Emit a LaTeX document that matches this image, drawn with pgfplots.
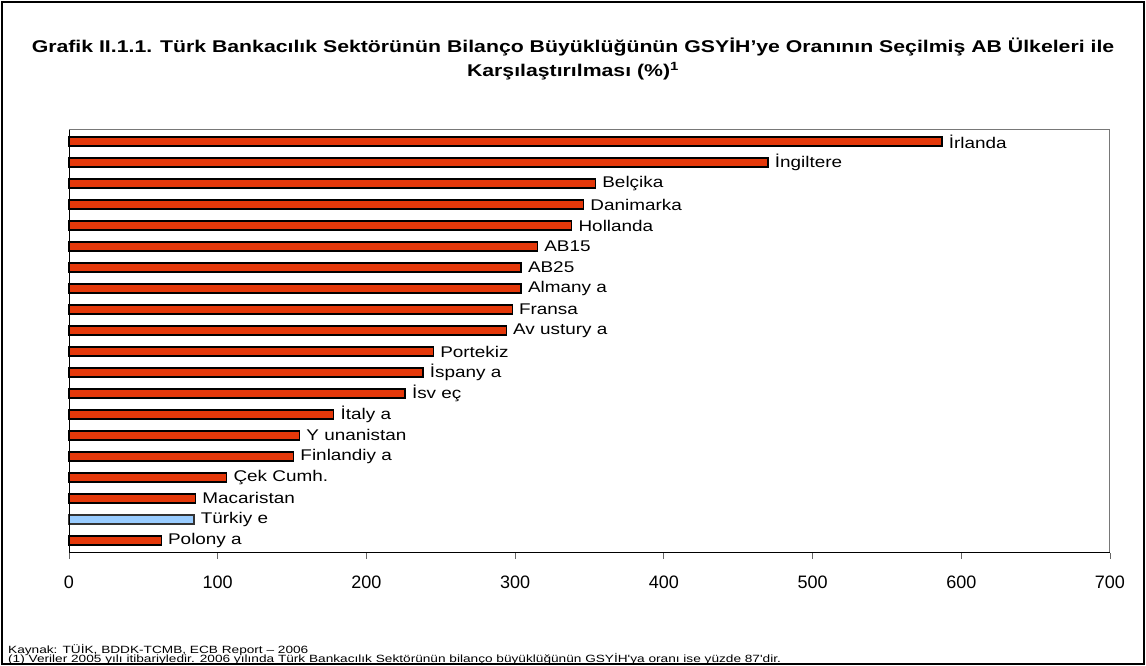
\documentclass[border=0pt]{standalone}
\usepackage{fontspec}
\setmainfont{Liberation Sans}
\newfontfamily\labelfont[FakeStretch=1.22]{Liberation Sans}
\newfontfamily\titlefont[FakeStretch=1.25]{Liberation Sans}
\newfontfamily\footfont[FakeStretch=1.3]{Liberation Sans}
\usepackage{pgfplots}
\pgfplotsset{compat=1.18}
\usepackage{pgfplotstable}
\definecolor{barred}{RGB}{228,56,10}
\definecolor{barblue}{RGB}{153,204,255}
\definecolor{framegray}{RGB}{120,120,120}

\pgfplotstableread[col sep=comma]{
y,v,lab
19,587,İrlanda
18,470,İngiltere
17,354,Belçika
16,346,Danimarka
15,338,Hollanda
14,315,AB15
13,304,AB25
12,304,Almany a
11,298,Fransa
10,294,Av ustury a
9,245,Portekiz
8,238,İspany a
7,226,İsv eç
6,178,İtaly a
5,155,Y unanistan
4,151,Finlandiy a
3,106,Çek Cumh.
2,85,Macaristan
0,62,Polony a
}\redbars

\pgfplotstableread[col sep=comma]{
y,v,lab
1,84,Türkiy e
}\bluebars

\begin{document}
\begin{tikzpicture}[x=1pt,y=1pt]
\useasboundingbox (0,0) rectangle (1146,666);
\draw[line width=2pt] (2,2) rectangle (1144,664);
\node[font=\titlefont\bfseries\fontsize{17}{24}\selectfont, align=center] at (573,607)
 {Grafik II.1.1. Türk Bankacılık Sektörünün Bilanço Büyüklüğünün GSYİH’ye Oranının Seçilmiş AB Ülkeleri ile\\
  Karşılaştırılması (\%)\textsuperscript{1}};
\begin{axis}[
  at={(69pt,113pt)}, anchor=south west,
  scale only axis, width=1041pt, height=423pt,
  xmin=0, xmax=700, ymin=-0.6, ymax=19.55,
  xbar, bar width=9pt, bar shift=0pt,
  ytick=\empty,
  xtick={0,100,...,700},
  xtick pos=bottom, tick align=outside,
  major tick length=6pt,
  tick style={black!60, line width=0.8pt},
  axis line style={framegray, line width=1pt},
  /pgf/number format/assume math mode=true,
  xticklabel style={font=\fontsize{18}{20}\selectfont, yshift=-13pt},
  nodes near coords,
  point meta=explicit symbolic,
  every node near coord/.append style={anchor=west, font=\labelfont\fontsize{15.5}{18}\selectfont, xshift=3pt, black},
  clip=false,
]
\addplot[fill=barred, draw=black, line width=1.2pt] table[x=v, y=y, meta=lab] {\redbars};
\addplot[fill=barblue, draw=black!80, line width=1.2pt] table[x=v, y=y, meta=lab] {\bluebars};
\draw[black, line width=1pt] (rel axis cs:0,1) -- (rel axis cs:0,0) -- (rel axis cs:1,0);
\end{axis}
\node[anchor=base west, font=\footfont\fontsize{10.5}{12}\selectfont, inner sep=0pt] at (8,12) {Kaynak: TÜİK, BDDK-TCMB, ECB Report – 2006};
\node[anchor=base west, font=\footfont\fontsize{10.5}{12}\selectfont, inner sep=0pt] at (8,3) {(1) Veriler 2005 yılı itibariyledir. 2006 yılında Türk Bankacılık Sektörünün bilanço büyüklüğünün GSYİH'ya oranı ise yüzde 87'dir.};
\end{tikzpicture}
\end{document}
